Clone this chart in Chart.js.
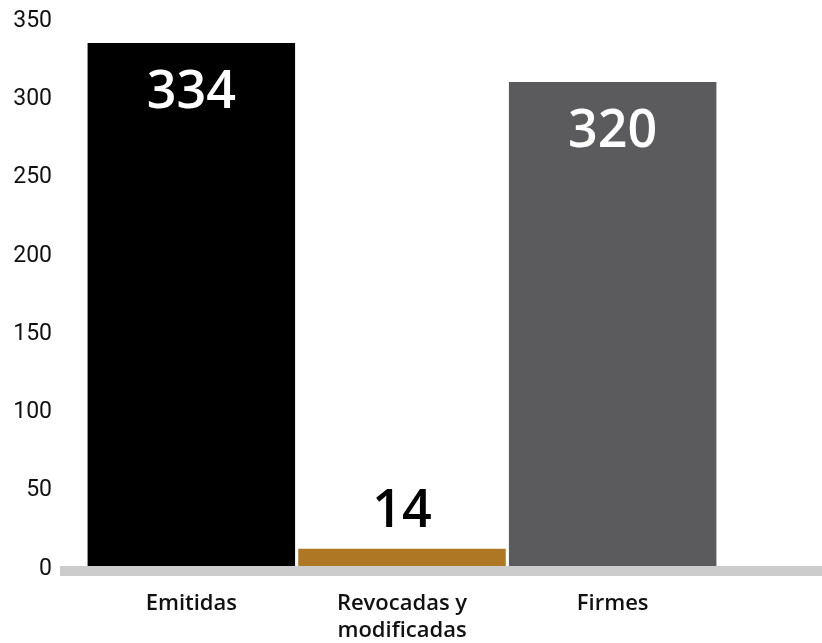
<!DOCTYPE html>
<html>
<head>
<meta charset="utf-8">
<script src="https://cdn.jsdelivr.net/npm/chart.js@4/dist/chart.umd.min.js"></script>
<style>
  html, body { margin: 0; padding: 0; background: #ffffff; }
  #wrap { width: 822px; height: 643px; position: relative; }
</style>
</head>
<body>
<div id="wrap"><canvas id="c" width="822" height="643"></canvas></div>
<script>
const categories = ["Emitidas", ["Revocadas y", "modificadas"], "Firmes"];
const barValues = [336, 13, 311];
const valueLabels = ["334", "14", "320"];
const barColors = ["#000000", "#AD7723", "#5B5B5D"];
const labelColors = ["#ffffff", "#000000", "#ffffff"];
const yTicks = [0, 50, 100, 150, 200, 250, 300, 350];

const baselinePlugin = {
  id: 'baseline',
  afterDatasetsDraw(chart) {
    const ctx = chart.ctx;
    const y0 = chart.scales.y.getPixelForValue(0);
    ctx.save();
    ctx.fillStyle = '#CCCCCC';
    ctx.fillRect(60, y0 - 3, chart.width - 60, 10);
    ctx.restore();
  }
};

const valueLabelPlugin = {
  id: 'valueLabels',
  afterDatasetsDraw(chart) {
    const ctx = chart.ctx;
    const meta = chart.getDatasetMeta(0);
    ctx.save();
    ctx.font = '600 52px "Open Sans", Lato, sans-serif';
    ctx.textAlign = 'center';
    ctx.textBaseline = 'middle';
    meta.data.forEach((bar, i) => {
      const v = chart.data.datasets[0].data[i];
      ctx.fillStyle = labelColors[i];
      const y = v > 100 ? bar.y + 50 : bar.y - 36;
      ctx.fillText(valueLabels[i], bar.x, y);
    });
    ctx.restore();
  }
};

new Chart(document.getElementById('c'), {
  type: 'bar',
  data: {
    labels: categories,
    datasets: [{
      data: barValues,
      backgroundColor: barColors,
      borderWidth: 0,
      categoryPercentage: 1.0,
      barPercentage: 0.985
    }]
  },
  options: {
    responsive: false,
    animation: false,
    devicePixelRatio: 1,
    layout: { padding: { top: 21, right: 104, bottom: 0, left: 0 } },
    plugins: {
      legend: { display: false },
      tooltip: { enabled: false }
    },
    scales: {
      x: {
        grid: { display: false, drawTicks: false },
        border: { display: false },
        ticks: {
          color: '#111111',
          font: { family: '"Open Sans", Lato, sans-serif', size: 22, weight: '600' },
          padding: 22,
          maxRotation: 0
        },
        afterFit(scale) { scale.height = 74; }
      },
      y: {
        min: 0,
        max: 350,
        afterBuildTicks(scale) { scale.ticks = yTicks.map(v => ({ value: v })); },
        grid: { display: false, drawTicks: false },
        border: { display: false },
        ticks: {
          color: '#111111',
          font: { family: 'Roboto, sans-serif', size: 23 },
          padding: 34
        },
        afterFit(scale) { scale.width = 86; scale.paddingTop = 0; scale.paddingBottom = 0; }
      }
    }
  },
  plugins: [baselinePlugin, valueLabelPlugin]
});
</script>
</body>
</html>
